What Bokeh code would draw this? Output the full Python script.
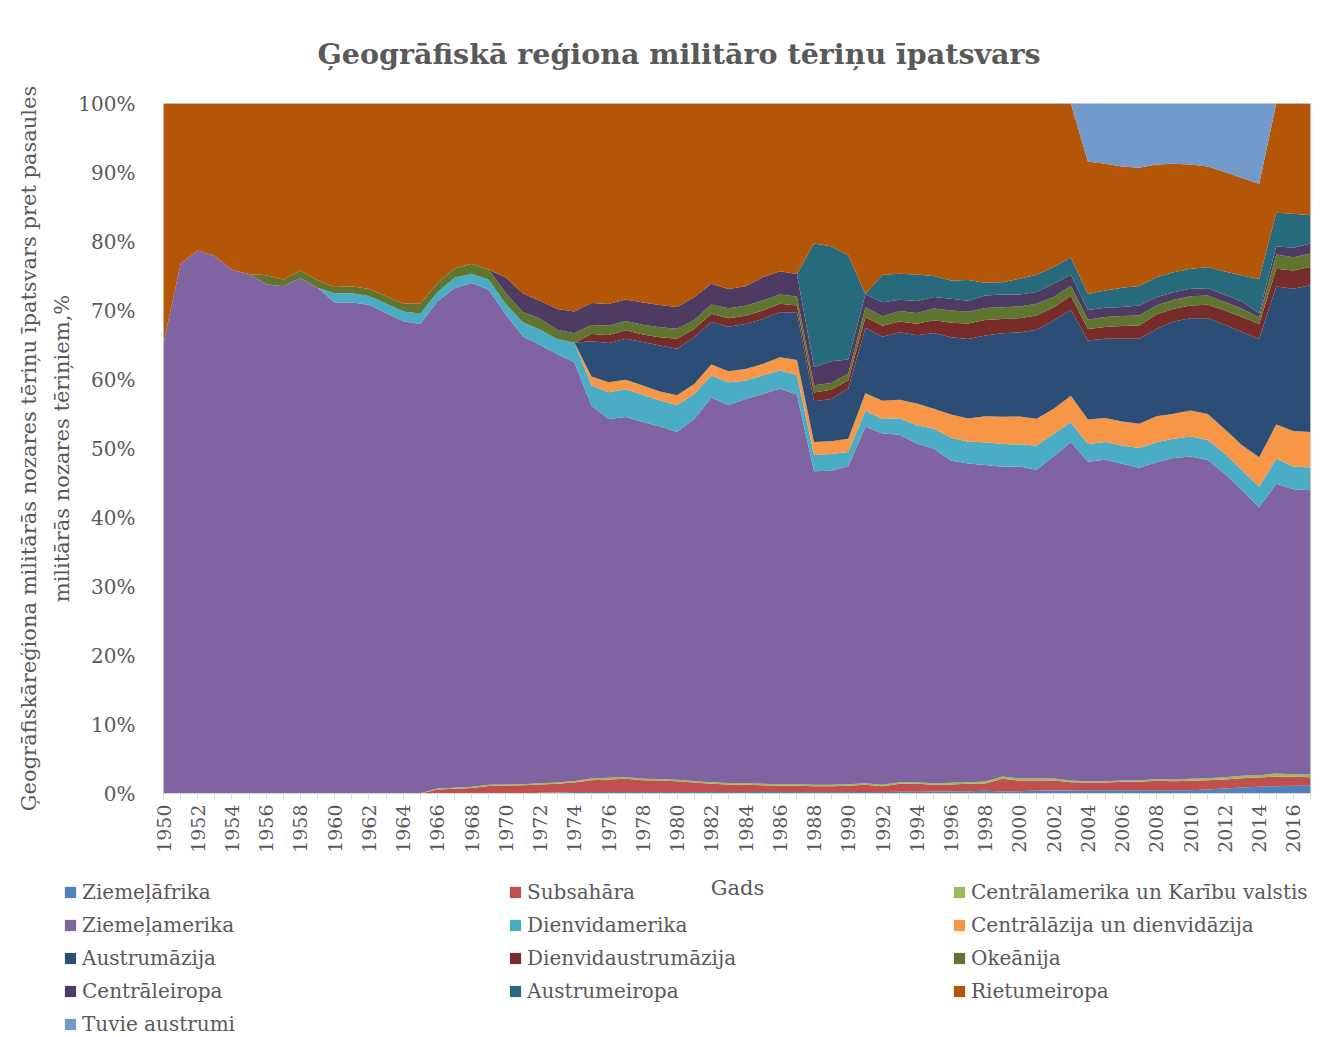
import math
from bokeh.plotting import figure
from bokeh.layouts import column
from bokeh.models import (ColumnDataSource, FixedTicker, PrintfTickFormatter, Legend,
                          LegendItem, Label, Range1d)
from bokeh.embed import file_html
from bokeh.resources import INLINE

years = list(range(1950, 2018))

ziemelafrika = [0] * 20 + [0.05, 0.05, 0.1, 0.15] + [0.2] * 17 + [0.22, 0.22, 0.25, 0.25] + \
    [0.29, 0.29, 0.34, 0.39, 0.29, 0.34, 0.43, 0.43, 0.43] + [0.48] * 7 + \
    [0.58, 0.72, 0.87, 0.97, 1.06, 1.11, 1.11]

subsahara = [0] * 16 + [0.58, 0.68, 0.80, 1.10, 1.10, 1.15, 1.20, 1.25, 1.39, 1.73, 1.83, 1.93,
                        1.73, 1.68, 1.59, 1.39, 1.20, 1.10, 1.06, 1.01, 0.91, 0.91, 0.86, 0.86,
                        0.91, 1.04, 0.84, 1.15, 1.15, 0.97, 1.01, 1.06, 1.06, 1.84, 1.54, 1.45,
                        1.45, 1.21, 1.11, 1.11, 1.21, 1.21, 1.36, 1.31, 1.36, 1.35, 1.31, 1.35,
                        1.35, 1.40, 1.31, 1.26]

centralamerika = [0] * 9 + [0.05] * 7 + [0.14, 0.14, 0.17, 0.16, 0.15, 0.15, 0.2, 0.2, 0.22,
                                         0.25, 0.25, 0.25] + [0.22] * 18 + \
    [0.25, 0.24, 0.29, 0.33, 0.29, 0.29, 0.29, 0.24, 0.20, 0.20, 0.19, 0.24, 0.24, 0.24,
     0.29, 0.29, 0.34, 0.34, 0.34, 0.44, 0.38, 0.38]

ziemelamerika = [65.2, 76.8, 78.7, 77.9, 75.9, 75.3, 73.8, 73.5, 74.7, 73.2, 71.1, 71.1, 70.8,
                 69.6, 68.4, 68.0, 70.6, 72.4, 73.0, 71.7, 68.1, 64.9, 63.5, 62.1, 60.7, 54.05,
                 52.0, 52.2, 51.7, 51.1, 50.4, 52.5, 55.7, 54.8, 55.7, 56.5, 57.3, 56.5, 45.4,
                 45.5, 46.1, 51.7, 50.9, 50.4, 49.1, 48.5, 46.7, 46.2, 45.9, 44.9, 45.2, 44.7,
                 46.7, 49.0, 46.3, 46.6, 45.9, 45.3, 45.9, 46.6, 46.7, 46.1, 44.0, 41.4, 38.8,
                 42.0, 41.3, 41.2]

dienvidamerika = [0] * 10 + [1.35, 1.35, 1.25, 1.35, 1.4, 1.5, 1.3, 1.5, 1.35, 1.45, 1.55, 2.0,
                             2.2, 2.17, 2.8, 2.9, 3.86, 4.01, 3.96, 3.77, 3.86, 3.62, 3.24, 3.29,
                             2.66, 2.66, 2.66, 2.85, 2.42, 2.42, 2.08, 2.32, 2.08, 2.42, 2.66,
                             2.90, 3.29, 3.14, 3.29, 3.29, 3.19, 3.53, 3.24, 2.90, 2.56, 2.56,
                             2.66, 2.85, 2.90, 2.80, 2.90, 2.90, 2.90, 2.90, 3.0, 3.62, 3.33, 3.29]

centralazija = [0] * 25 + [1.30, 1.45, 1.40, 1.35, 1.30, 1.45, 1.45, 1.59, 1.59, 1.69, 1.69, 1.93,
                           2.17, 1.84, 1.84, 1.93, 2.51, 2.66, 2.66, 3.14, 2.90, 3.38, 3.38, 3.77,
                           3.96, 4.06, 3.86, 3.62, 3.86, 3.53, 3.48, 3.48, 3.53, 3.77, 3.62, 3.77,
                           3.77, 3.53, 3.62, 4.25, 4.98, 5.12, 5.17]

austrumazija = [0] * 25 + [5.12, 5.70, 5.94, 6.28, 6.67, 6.76, 6.76, 6.14, 6.47, 6.52, 6.52, 6.52,
                           6.91, 5.89, 6.14, 7.25, 9.47, 9.28, 9.81, 9.90, 10.97, 11.21, 11.50,
                           11.69, 12.08, 12.17, 12.90, 12.80, 12.46, 11.45, 11.50, 11.98, 12.32,
                           12.66, 13.38, 13.38, 13.86, 15.17, 16.43, 17.15, 20.0, 20.63, 21.26]

dienvidaustrumazija = [0] * 25 + [1.06, 1.16, 1.21, 1.11, 1.21, 1.45, 1.21, 1.21, 1.21, 1.21, 1.21,
                                  1.21, 0.97, 1.26, 1.35, 1.21, 1.55, 1.59, 1.55, 1.69, 1.84, 2.08,
                                  2.27, 2.27, 2.08, 2.08, 2.08, 1.93, 2.03, 1.69, 1.69, 1.84, 1.93,
                                  2.08, 1.84, 1.84, 1.93, 2.08, 2.17, 2.17, 2.56, 2.66, 2.66]

okeanija = [0] * 6 + [1.3, 1.0, 1.1, 1.1, 0.9, 1.0, 1.0, 1.05, 1.15, 1.45, 1.35, 1.35, 1.45, 1.45,
                      1.55, 1.55, 1.6, 1.35, 1.40, 1.30, 1.35, 1.35, 1.40, 1.45, 1.45, 1.30, 1.35,
                      1.45, 1.45, 1.45, 1.35, 1.30, 1.06, 0.97, 0.97, 1.45, 1.35, 1.50, 1.55, 1.69,
                      1.79, 1.69, 1.74, 1.69, 1.69, 1.69, 1.45, 1.45, 1.35, 1.45, 1.45, 1.45, 1.30,
                      1.30, 1.35, 1.35, 1.21, 1.21, 0.97, 2.08, 1.93, 1.93]

centraleiropa = [0] * 20 + [2.3, 2.65, 2.6, 3.0, 3.14, 3.19, 3.14, 3.14, 3.24, 3.24, 3.14, 3.29,
                            3.0, 2.80, 2.80, 3.38, 3.38, 3.29, 2.66, 3.14, 2.03, 1.84, 2.03, 1.64,
                            1.74, 1.69, 1.69, 1.59, 1.79, 1.84, 1.74, 1.69, 1.93, 1.59, 1.40, 1.35,
                            1.30, 1.45, 1.21, 1.11, 1.06, 1.06, 1.06, 1.06, 0.58, 1.21, 1.35, 1.45]

austrumeiropa = [0] * 38 + [17.87, 16.67, 15.12, 0.1, 4.01, 3.77, 3.82, 3.04, 2.66, 3.0, 1.84,
                            1.79, 2.27, 2.51, 2.42, 2.51, 2.32, 2.51, 2.80, 2.80, 2.90, 2.90,
                            2.90, 3.04, 3.38, 3.77, 4.98, 4.83, 4.93, 4.11]

rietumeiropa = [34.8, 23.2, 21.3, 22.1, 24.1, 24.7, 24.9, 25.5, 24.2, 25.6, 26.6, 26.5, 26.9,
                27.95, 29.0, 29.0, 26.0, 23.9, 23.2, 24.1, 25.2, 27.55, 28.6, 29.8, 30.15, 28.9,
                29.06, 28.4, 28.84, 29.2, 29.5, 28.1, 26.1, 26.9, 26.5, 25.2, 24.3, 24.7, 20.3,
                20.7, 22.0, 27.6, 24.8, 24.7, 24.8, 25.0, 25.65, 25.6, 26.0, 25.9, 25.4, 24.8,
                23.7, 22.3, 19.2, 18.36, 17.58, 17.15, 16.33, 15.70, 15.12, 14.59, 14.40, 14.11,
                13.77, 15.85, 16.0, 16.2]

tuvie_austrumi = [0] * 54 + [8.4, 8.75, 9.13, 9.32, 8.84, 8.75, 8.84, 9.13, 9.95, 10.82, 11.64,
                             0, 0, 0]

series_names = ["Ziemeļāfrika", "Subsahāra", "Centrālamerika un Karību valstis", "Ziemeļamerika",
                "Dienvidamerika", "Centrālāzija un dienvidāzija", "Austrumāzija",
                "Dienvidaustrumāzija", "Okeānija", "Centrāleiropa", "Austrumeiropa",
                "Rietumeiropa", "Tuvie austrumi"]
series_values = [ziemelafrika, subsahara, centralamerika, ziemelamerika, dienvidamerika,
                 centralazija, austrumazija, dienvidaustrumazija, okeanija, centraleiropa,
                 austrumeiropa, rietumeiropa, tuvie_austrumi]
colors = ["#4F81BD", "#C0504D", "#9BBB59", "#8064A2", "#4BACC6", "#F79646", "#2C4D75",
          "#772C2A", "#5F7530", "#4D3B62", "#276A7C", "#B45607", "#729ACA"]

title_text = "Ģeogrāfiskā reģiona militāro tēriņu īpatsvars"
y_title = "Ģeogrāfiskāreģiona militārās nozares tēriņu īpatsvars pret pasaules\nmilitārās nozares tēriņiem,%"
x_title = "Gads"

# 100% stacked: normalise every year to its total
totals = [sum(s[i] for s in series_values) for i in range(len(years))]
data = {"year": years}
keys = []
for k, s in enumerate(series_values):
    key = "s%d" % k
    keys.append(key)
    data[key] = [100.0 * s[i] / totals[i] for i in range(len(years))]
src = ColumnDataSource(data)

FONT = "DejaVu Serif"
GREY = "#595959"

W = 1333
H_CHART = 860
H_LEG = 177

p = figure(width=W, height=H_CHART, output_backend="svg", toolbar_location=None,
           x_range=Range1d(1950, 2017), y_range=Range1d(0, 100),
           min_border_left=163, min_border_right=23, min_border_top=103, min_border_bottom=67)
p.outline_line_color = "#D9D9D9"
p.xgrid.visible = False
p.ygrid.visible = False

p.title.text = title_text
p.title.text_font = FONT
p.title.text_font_size = "28.5px"
p.title.text_font_style = "bold"
p.title.text_color = GREY
p.title.align = "left"
p.title.offset = 154
p.title.standoff = 66

renderers = p.varea_stack(stackers=keys, x="year", color=colors, source=src)

xa = p.xaxis[0]
xa.ticker = FixedTicker(ticks=years)
xa.major_label_overrides = {y: ("" if (y - 1950) % 2 else str(y)) for y in years}
xa.major_label_orientation = math.pi / 2
xa.major_label_text_font = FONT
xa.major_label_text_font_size = "19px"
xa.major_label_text_color = GREY
xa.major_label_standoff = 5
xa.axis_line_color = "#D9D9D9"
xa.major_tick_line_color = "#D9D9D9"
xa.major_tick_out = 6
xa.major_tick_in = 0
xa.minor_tick_line_color = None

ya = p.yaxis[0]
ya.ticker = FixedTicker(ticks=list(range(0, 101, 10)))
ya.formatter = PrintfTickFormatter(format="%d%%")
ya.major_label_text_font = FONT
ya.major_label_text_font_size = "20px"
ya.major_label_text_color = GREY
ya.major_label_standoff = 22
ya.axis_line_color = None
ya.major_tick_line_color = None
ya.minor_tick_line_color = None
ya.axis_label = y_title
ya.axis_label_text_font = FONT
ya.axis_label_text_font_style = "normal"
ya.axis_label_text_font_size = "21px"
ya.axis_label_text_color = GREY
ya.axis_label_text_line_height = 1.4
ya.axis_label_standoff = 1

# legend panel: a second canvas below the chart, whose frame covers the whole canvas
lg = figure(width=W, height=H_LEG, output_backend="svg", toolbar_location=None,
            x_range=Range1d(0, W), y_range=Range1d(0, H_LEG),
            x_axis_location=None, y_axis_location=None,
            min_border=0, min_border_left=0, min_border_right=0,
            min_border_top=0, min_border_bottom=0)
lg.outline_line_color = None
lg.xgrid.visible = False
lg.ygrid.visible = False
for fig in (p, lg):
    try:
        fig.frame_align = False
    except Exception:
        pass

# legend key proxies (kept below the visible range of the legend canvas)
proxies = [lg.varea(x=[0, 1], y1=[-30, -30], y2=[-20, -20], color=c) for c in colors]

lg.add_layout(Label(x=737, y=150, text=x_title, text_font=FONT, text_font_size="21px",
                    text_color=GREY, text_align="center", text_baseline="middle"))

columns = [[0, 3, 6, 9, 12], [1, 4, 7, 10], [2, 5, 8, 11]]
col_x = [63, 508, 952]
for cx, idxs in zip(col_x, columns):
    items = [LegendItem(label=series_names[i], renderers=[proxies[i]]) for i in idxs]
    n = len(idxs)
    leg = Legend(items=items, location=(cx, H_LEG - 15.5 - 33 * n),
                 orientation="vertical", padding=0, margin=0, spacing=0,
                 glyph_width=14, glyph_height=14, label_height=33, label_standoff=5,
                 label_text_font=FONT, label_text_font_size="20px", label_text_color=GREY,
                 border_line_color=None, background_fill_alpha=0)
    lg.add_layout(leg, "center")

layout = column(p, lg, spacing=0)
open("out.html", "w").write(file_html(layout, INLINE))
